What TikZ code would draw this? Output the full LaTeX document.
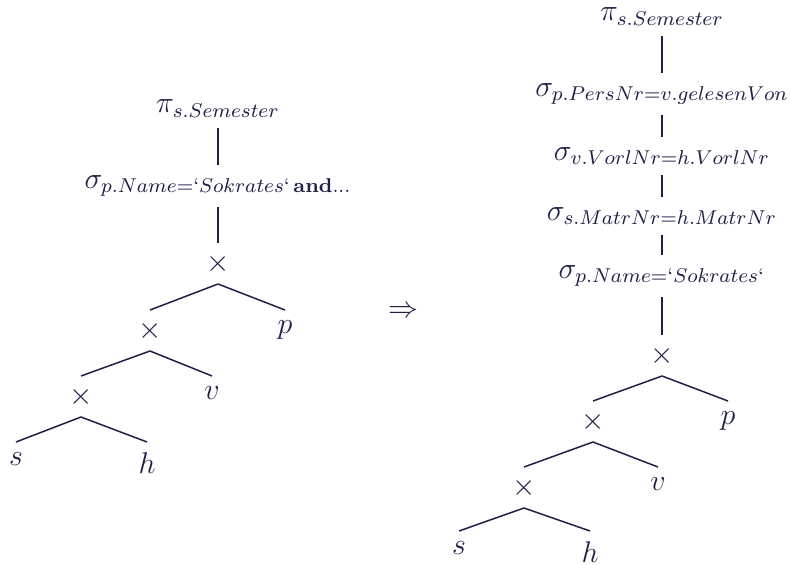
\documentclass[tikz,border=0pt]{standalone}
\usepackage{amsmath}
\definecolor{ink}{RGB}{30,32,72}
\begin{document}
\begin{tikzpicture}[x=0.40pt,y=-0.40pt,
  every node/.style={text=ink, inner sep=4pt, font=\fontsize{12}{14}\selectfont},
  tn/.style={anchor=north},
  top/.style={anchor=south},
  con/.style={draw=ink, line width=0.6pt}]
\useasboundingbox (0,0) rectangle (791,565);
% ---------- left tree ----------
\node[top] (Lpi) at (218,128) {$\pi_{s.Semester}$};
\node[tn] (Lsig) at (218,165) {$\sigma_{p.Name=`Sokrates`\,\textbf{and}...}$};
\node[tn] (Lx1) at (218,243) {$\times$};
\node[tn] (Lx2) at (150,310) {$\times$};
\node[tn] (Lp) at (285,310) {$p$};
\node[tn] (Lx3) at (81,376) {$\times$};
\node[tn] (Lv) at (212,376) {$v$};
\node[tn] (Ls) at (16,442) {$s$};
\node[tn] (Lh) at (147,442) {$h$};
\draw[con] (Lpi.south) -- (Lsig.north);
\draw[con] (Lsig.south) -- (Lx1.north);
\draw[con] (Lx1.south) -- (Lx2.north);
\draw[con] (Lx1.south) -- (Lp.north);
\draw[con] (Lx2.south) -- (Lx3.north);
\draw[con] (Lx2.south) -- (Lv.north);
\draw[con] (Lx3.south) -- (Ls.north);
\draw[con] (Lx3.south) -- (Lh.north);
% ---------- arrow ----------
\node (arr) at (403,312) {$\Rightarrow$};
% ---------- right tree ----------
\node[top] (Rpi) at (662,36) {$\pi_{s.Semester}$};
\node[tn] (Rs1) at (662,73) {$\sigma_{p.PersNr=v.gelesenVon}$};
\node[tn] (Rs2) at (662,137) {$\sigma_{v.VorlNr=h.VorlNr}$};
\node[tn] (Rs3) at (662,197) {$\sigma_{s.MatrNr=h.MatrNr}$};
\node[tn] (Rs4) at (662,255) {$\sigma_{p.Name=`Sokrates`}$};
\node[tn] (Rx1) at (662,335) {$\times$};
\node[tn] (Rx2) at (593,401) {$\times$};
\node[tn] (Rp) at (728,401) {$p$};
\node[tn] (Rx3) at (524,467) {$\times$};
\node[tn] (Rv) at (658,467) {$v$};
\node[tn] (Rs) at (459,531) {$s$};
\node[tn] (Rh) at (590,531) {$h$};
\draw[con] (Rpi.south) -- (Rs1.north);
\draw[con] (Rs1.south) -- (Rs2.north);
\draw[con] (Rs2.south) -- (Rs3.north);
\draw[con] (Rs3.south) -- (Rs4.north);
\draw[con] (Rs4.south) -- (Rx1.north);
\draw[con] (Rx1.south) -- (Rx2.north);
\draw[con] (Rx1.south) -- (Rp.north);
\draw[con] (Rx2.south) -- (Rx3.north);
\draw[con] (Rx2.south) -- (Rv.north);
\draw[con] (Rx3.south) -- (Rs.north);
\draw[con] (Rx3.south) -- (Rh.north);
\end{tikzpicture}
\end{document}
